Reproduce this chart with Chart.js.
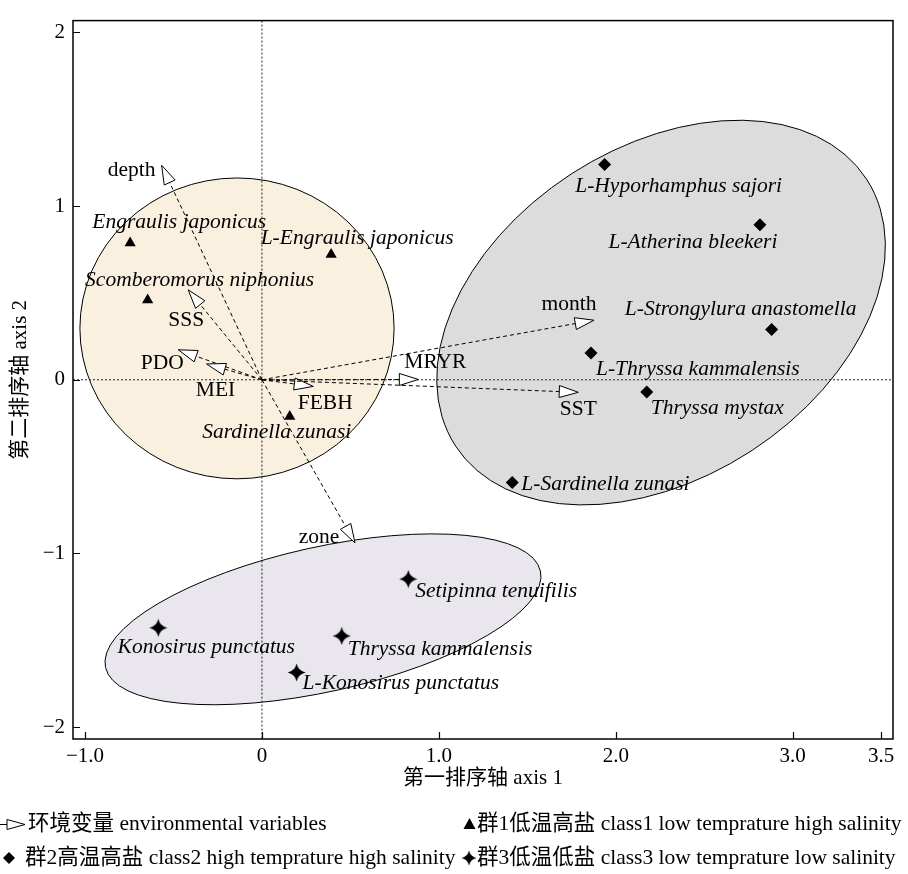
<!DOCTYPE html>
<html>
<head>
<meta charset="utf-8">
<script src="https://cdn.jsdelivr.net/npm/chart.js@4.4.1/dist/chart.umd.min.js"></script>
<style>
  html, body { margin: 0; padding: 0; background: #ffffff; }
  #wrap { width: 908px; height: 874px; }
</style>
</head>
<body>
<div id="wrap"><canvas id="rda" width="908" height="874"></canvas></div>
<script>
// ---- RDA species scores ----
// class 1: low temperature, high salinity
const class1Names = ['Engraulis japonicus', 'L-Engraulis japonicus', 'Scomberomorus niphonius', 'Sardinella zunasi'];
const class1X = [-0.745, 0.391, -0.646, 0.157];
const class1Y = [0.788, 0.722, 0.460, -0.211];

// class 2: high temperature, high salinity
const class2Names = ['L-Hyporhamphus sajori', 'L-Atherina bleekeri', 'L-Strongylura anastomella',
                     'L-Thryssa kammalensis', 'Thryssa mystax', 'L-Sardinella zunasi'];
const class2X = [1.937, 2.815, 2.881, 1.860, 2.175, 1.415];
const class2Y = [1.240, 0.892, 0.289, 0.155, -0.070, -0.591];

// class 3: low temperature, low salinity
const class3Names = ['Setipinna tenuifilis', 'Konosirus punctatus', 'Thryssa kammalensis', 'L-Konosirus punctatus'];
const class3X = [0.827, -0.586, 0.451, 0.196];
const class3Y = [-1.147, -1.428, -1.475, -1.685];

// ---- environmental variable vectors (arrow tips, from the origin) ----
const envNames = ['depth', 'SSS', 'PDO', 'MEI', 'FEBH', 'MRYR', 'month', 'SST', 'zone'];
const envX = [-0.567, -0.417, -0.473, -0.313, 0.290, 0.884, 1.877, 1.788, 0.526];
const envY = [1.235, 0.518, 0.173, 0.091, -0.038, 0.002, 0.343, -0.072, -0.939];

// ---- axis ticks ----
const xTickValues = [-1, 0, 1, 2, 3, 3.5];
const xTickLabels = ['\u22121.0', '0', '1.0', '2.0', '3.0', '3.5'];
const yTickValues = [-2, -1, 0, 1, 2];
const yTickLabels = ['\u22122', '\u22121', '0', '1', '2'];

// ---- group envelopes (data units): centre, semi-axes, tilt in degrees ----
const hullCX = [-0.141, 2.256, 0.345];
const hullCY = [0.296, 0.387, -1.379];
const hullA = [0.888, 1.385, 1.259];
const hullB = [0.866, 0.951, 0.416];
const hullTilt = [0, 33, 12.5];

// ---- text ----
const xTitle = '第一排序轴 axis 1';
const yTitle = '第二排序轴 axis 2';
const legendTexts = ['环境变量 environmental variables',
                     '群1低温高盐 class1 low temprature high salinity',
                     '群2高温高盐 class2 high temprature high salinity',
                     '群3低温低盐 class3 low temprature low salinity'];

// ---- styling / label placement (pixel offsets from each mark) ----
const SERIF = "'Liberation Serif', 'Times New Roman', 'Noto Sans CJK SC', serif";
const hullFill = ['#faf0df', '#dcdcdc', '#e9e6ee'];
const class1Place = [[49, -21, 'center'], [26, -16, 'center'], [52, -20, 'center'], [-13, 16, 'center']];
const class2Place = [[74, 22, 'center'], [-67, 17, 'center'], [-31, -20, 'center'],
                     [5, 16, 'left'], [4, 16, 'left'], [9, 2, 'left']];
const class3Place = [[7, 12, 'left'], [48, 20, 'center'], [6, 13, 'left'], [6, 11, 'left']];
const envPlace = [[-30, 5], [-2, 31], [-16, 14], [9, 26], [12, 17], [17, -17], [-25, -16], [0, 17], [-36, -6]];

// four-point star marker
function makeStar(size) {
  const c = document.createElement('canvas');
  c.width = size; c.height = size;
  const g = c.getContext('2d');
  const m = size / 2, r = size / 2 - 0.5, k = 1.6;
  g.fillStyle = '#000';
  g.beginPath();
  g.moveTo(m, m - r);
  g.quadraticCurveTo(m + k, m - k, m + r, m);
  g.quadraticCurveTo(m + k, m + k, m, m + r);
  g.quadraticCurveTo(m - k, m + k, m - r, m);
  g.quadraticCurveTo(m - k, m - k, m, m - r);
  g.closePath();
  g.fill();
  return c;
}
const starImg = makeStar(19);

function pts(xs, ys) { return xs.map((x, i) => ({ x: x, y: ys[i] })); }

function openTriangle(ctx, tx, ty, ux, uy, len, half) {
  const bx = tx - ux * len, by = ty - uy * len;
  const px = -uy, py = ux;
  ctx.beginPath();
  ctx.moveTo(tx, ty);
  ctx.lineTo(bx + px * half, by + py * half);
  ctx.lineTo(bx - px * half, by - py * half);
  ctx.closePath();
  ctx.fillStyle = '#ffffff';
  ctx.fill();
  ctx.strokeStyle = '#000';
  ctx.lineWidth = 1;
  ctx.stroke();
}

const backdrop = {
  id: 'backdrop',
  beforeDatasetsDraw(chart) {
    const { ctx, chartArea: a, scales: { x, y } } = chart;
    const ux = x.getPixelForValue(1) - x.getPixelForValue(0);
    const uy = y.getPixelForValue(0) - y.getPixelForValue(1);
    ctx.save();
    // group envelopes
    for (let i = 0; i < hullCX.length; i++) {
      ctx.beginPath();
      ctx.ellipse(x.getPixelForValue(hullCX[i]), y.getPixelForValue(hullCY[i]),
        hullA[i] * ux, hullB[i] * uy, -hullTilt[i] * Math.PI / 180, 0, Math.PI * 2);
      ctx.fillStyle = hullFill[i];
      ctx.fill();
      ctx.strokeStyle = '#000';
      ctx.lineWidth = 1;
      ctx.stroke();
    }
    // dotted zero lines
    const x0 = x.getPixelForValue(0), y0 = y.getPixelForValue(0);
    ctx.setLineDash([2, 2]);
    ctx.strokeStyle = '#222';
    ctx.lineWidth = 1;
    ctx.beginPath();
    ctx.moveTo(x0, a.top); ctx.lineTo(x0, a.bottom);
    ctx.moveTo(a.left, y0); ctx.lineTo(a.right, y0);
    ctx.stroke();
    // environmental vectors
    const headLen = 19, headHalf = 6;
    for (let i = 0; i < envNames.length; i++) {
      const tx = x.getPixelForValue(envX[i]), ty = y.getPixelForValue(envY[i]);
      const d = Math.hypot(tx - x0, ty - y0);
      const dx = (tx - x0) / d, dy = (ty - y0) / d;
      ctx.setLineDash([4, 3]);
      ctx.strokeStyle = '#000';
      ctx.lineWidth = 1;
      ctx.beginPath();
      ctx.moveTo(x0, y0);
      ctx.lineTo(tx - dx * headLen, ty - dy * headLen);
      ctx.stroke();
      ctx.setLineDash([]);
      openTriangle(ctx, tx, ty, dx, dy, headLen, headHalf);
    }
    ctx.restore();
  },
  afterDatasetsDraw(chart) {
    const { ctx, chartArea: a, scales: { x, y } } = chart;
    ctx.save();
    ctx.fillStyle = '#000';
    ctx.textBaseline = 'middle';
    // species names
    ctx.font = 'italic 21.5px ' + SERIF;
    const groups = [[class1Names, class1X, class1Y, class1Place],
                    [class2Names, class2X, class2Y, class2Place],
                    [class3Names, class3X, class3Y, class3Place]];
    groups.forEach(([names, xs, ys, place]) => {
      names.forEach((n, i) => {
        ctx.textAlign = place[i][2];
        ctx.fillText(n, x.getPixelForValue(xs[i]) + place[i][0], y.getPixelForValue(ys[i]) + place[i][1]);
      });
    });
    // environmental variable names
    ctx.font = '21.5px ' + SERIF;
    ctx.textAlign = 'center';
    envNames.forEach((n, i) => {
      ctx.fillText(n, x.getPixelForValue(envX[i]) + envPlace[i][0], y.getPixelForValue(envY[i]) + envPlace[i][1]);
    });
    // frame
    ctx.strokeStyle = '#000';
    ctx.lineWidth = 1.5;
    ctx.strokeRect(a.left, a.top, a.right - a.left, a.bottom - a.top);
    // inward tick marks
    ctx.lineWidth = 1.2;
    ctx.beginPath();
    xTickValues.forEach(v => {
      const px = Math.round(x.getPixelForValue(v)) + 0.5;
      ctx.moveTo(px, a.bottom); ctx.lineTo(px, a.bottom - 7);
    });
    yTickValues.forEach(v => {
      const py = Math.round(y.getPixelForValue(v)) + 0.5;
      ctx.moveTo(a.left, py); ctx.lineTo(a.left + 7, py);
    });
    ctx.stroke();
    ctx.restore();
  },
  afterDraw(chart) {
    const { ctx } = chart;
    ctx.save();
    ctx.fillStyle = '#000';
    ctx.strokeStyle = '#000';
    ctx.textBaseline = 'middle';
    ctx.textAlign = 'left';
    ctx.font = '21.5px ' + SERIF;
    const r1 = 824, r2 = 858;
    // open-arrow key
    ctx.lineWidth = 1;
    ctx.beginPath(); ctx.moveTo(0, r1 + 0.5); ctx.lineTo(7, r1 + 0.5); ctx.stroke();
    openTriangle(ctx, 25, r1 + 0.5, 1, 0, 18, 5);
    ctx.fillStyle = '#000';
    ctx.fillText(legendTexts[0], 28, r1);
    // triangle key
    ctx.beginPath();
    ctx.moveTo(469.5, r1 - 6); ctx.lineTo(475.5, r1 + 5); ctx.lineTo(463.5, r1 + 5); ctx.closePath(); ctx.fill();
    ctx.fillText(legendTexts[1], 477, r1);
    // diamond key
    ctx.beginPath();
    ctx.moveTo(9, r2 - 6); ctx.lineTo(15, r2); ctx.lineTo(9, r2 + 6); ctx.lineTo(3, r2); ctx.closePath(); ctx.fill();
    ctx.fillText(legendTexts[2], 25, r2);
    // star key
    ctx.drawImage(starImg, 469 - 8, r2 - 8, 16, 16);
    ctx.fillText(legendTexts[3], 477, r2);
    ctx.restore();
  }
};

new Chart(document.getElementById('rda'), {
  type: 'scatter',
  data: {
    datasets: [
      { label: 'class1', data: pts(class1X, class1Y), pointStyle: 'triangle', pointRadius: 6.5,
        backgroundColor: '#000', borderColor: '#000', borderWidth: 0 },
      { label: 'class2', data: pts(class2X, class2Y), pointStyle: 'rectRot', pointRadius: 6.5,
        backgroundColor: '#000', borderColor: '#000', borderWidth: 0 },
      { label: 'class3', data: pts(class3X, class3Y), pointStyle: starImg, pointRadius: 9,
        backgroundColor: '#000', borderColor: '#000', borderWidth: 0 }
    ]
  },
  options: {
    responsive: false,
    animation: false,
    devicePixelRatio: 1,
    events: [],
    layout: { padding: { top: 8, right: 15, left: 0, bottom: 0 } },
    plugins: { legend: { display: false }, tooltip: { enabled: false } },
    scales: {
      x: {
        type: 'linear', min: -1.068, max: 3.567,
        grid: { display: false, drawTicks: false }, border: { display: false },
        afterBuildTicks: s => { s.ticks = xTickValues.map(v => ({ value: v })); },
        afterFit: s => { s.height = 135; },
        ticks: {
          padding: 5, color: '#000', font: { family: SERIF, size: 21 },
          callback: v => xTickLabels[xTickValues.indexOf(v)]
        },
        title: { display: true, text: xTitle, color: '#000', font: { family: SERIF, size: 21 },
                 padding: { top: 0, bottom: 83 } }
      },
      y: {
        type: 'linear', min: -2.068, max: 2.068,
        grid: { display: false, drawTicks: false }, border: { display: false },
        afterBuildTicks: s => { s.ticks = yTickValues.map(v => ({ value: v })); },
        afterFit: s => { s.width = 73; },
        ticks: {
          padding: 8, color: '#000', font: { family: SERIF, size: 21 },
          callback: v => yTickLabels[yTickValues.indexOf(v)]
        },
        title: { display: true, text: yTitle, color: '#000', font: { family: SERIF, size: 21 },
                 padding: { top: 8, bottom: 0 } }
      }
    }
  },
  plugins: [backdrop]
});
</script>
</body>
</html>
